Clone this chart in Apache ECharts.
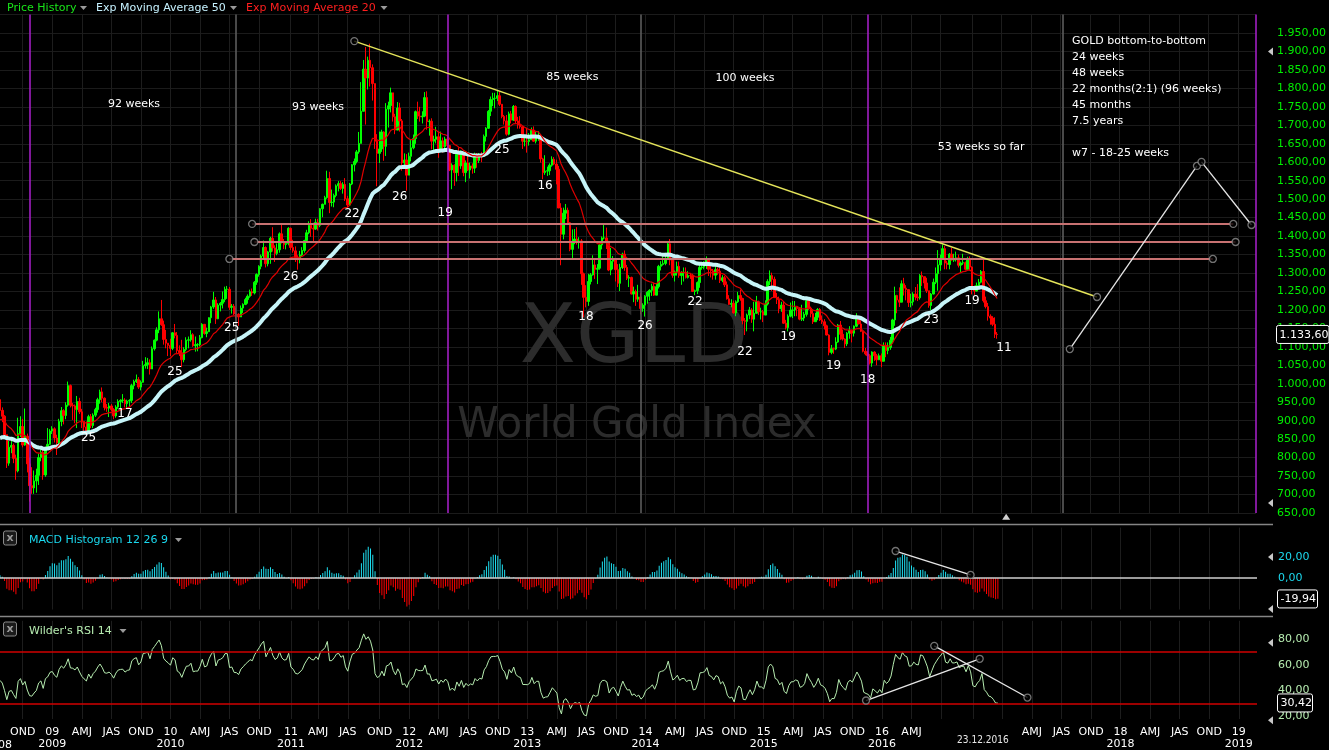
<!DOCTYPE html>
<html><head><meta charset="utf-8">
<script src="https://cdn.jsdelivr.net/npm/echarts@6/dist/echarts.min.js"></script>
<style>html,body{margin:0;padding:0;background:#000;overflow:hidden}#c{width:1329px;height:750px}</style>
</head><body><div id="c"></div>
<script>
// ---------- DATA (weekly, Fridays, [close, high, low]) ----------
const startDate = '2008-07-25';
const totalWeeks = 554;          // categories incl. empty future weeks up to early 2019
const firstOpen = 957;
const w2008 = [[928,966,912],[912,936,896],[862,915,853],[785,862,772],[828,845,778],[833,846,812],[798,838,785],[764,808,740],[865,908,760],[884,912,856],[834,905,828],[858,933,832],[783,865,760],[724,800,681],[718,774,702],[737,765,702],[752,770,705],[800,810,726],[814,830,790],[753,822,740],[822,830,748],[836,880,826],[872,877,835]];
const w2009 = [[878,885,864],[853,882,841],[840,862,807],[898,905,835],[927,937,885],[914,931,890],[942,950,904],[995,1006,938],[942,998,936],[940,948,902],[930,944,893],[952,967,880],[924,962,918],[898,932,880],[883,894,865],[870,898,864],[911,916,876],[887,918,880],[915,920,880],[930,935,910],[957,962,922],[978,984,946],[961,990,950],[936,963,928],[934,945,924],[940,948,910],[930,945,925],[913,934,904],[937,942,908],[952,958,932],[955,958,930],[956,972,948],[946,961,936],[953,957,932],[955,958,938],[995,1000,948],[1006,1011,985],[1011,1025,1002],[991,1018,986],[1004,1009,982],[1049,1062,1003],[1052,1072,1041],[1057,1070,1040],[1040,1066,1025],[1095,1101,1040],[1118,1120,1090],[1146,1153,1115],[1176,1196,1137],[1160,1227,1157],[1120,1171,1106],[1110,1146,1096],[1104,1108,1075]];
const w2010 = [[1096,1122,1075],[1138,1140,1091],[1131,1162,1123],[1090,1140,1083],[1084,1104,1075],[1065,1119,1045],[1093,1099,1058],[1118,1126,1088],[1119,1128,1096],[1133,1145,1114],[1103,1137,1100],[1106,1128,1087],[1106,1110,1088],[1125,1132,1101],[1161,1164,1123],[1136,1162,1133],[1141,1152,1126],[1179,1180,1140],[1208,1211,1164],[1227,1249,1203],[1176,1235,1162],[1213,1218,1175],[1218,1221,1196],[1228,1250,1204],[1256,1263,1221],[1256,1265,1230],[1207,1262,1200],[1210,1216,1190],[1189,1216,1186],[1188,1206,1177],[1181,1191,1157],[1205,1212,1182],[1215,1218,1192],[1228,1233,1213],[1237,1242,1217],[1249,1255,1233],[1246,1258,1238],[1275,1278,1242],[1296,1299,1268],[1318,1321,1290],[1346,1350,1310],[1369,1388,1340],[1325,1372,1315],[1357,1360,1318],[1394,1398,1325],[1368,1424,1358],[1353,1375,1330],[1363,1380,1348],[1406,1410,1355],[1385,1431,1380],[1377,1392,1365],[1380,1386,1364],[1421,1424,1375]];
const w2011 = [[1369,1423,1362],[1360,1390,1355],[1342,1372,1330],[1340,1348,1309],[1349,1360,1326],[1361,1370,1345],[1388,1390,1355],[1409,1417,1383],[1429,1440,1405],[1421,1446,1398],[1419,1436,1382],[1437,1447,1417],[1429,1447,1415],[1474,1476,1424],[1486,1488,1451],[1504,1509,1488],[1556,1577,1501],[1491,1574,1462],[1492,1526,1480],[1510,1515,1478],[1536,1540,1505],[1542,1549,1521],[1529,1549,1525],[1540,1546,1515],[1501,1557,1495],[1484,1509,1478],[1541,1544,1483],[1593,1595,1538],[1602,1610,1575],[1628,1633,1597],[1651,1682,1623],[1738,1817,1658],[1852,1877,1745],[1828,1912,1702],[1876,1886,1797],[1856,1921,1805],[1813,1865,1767],[1657,1810,1636],[1624,1676,1535],[1636,1683,1598],[1682,1688,1628],[1643,1684,1604],[1744,1760,1617],[1753,1764,1694],[1788,1802,1735],[1723,1788,1710],[1687,1731,1676],[1747,1763,1692],[1712,1761,1683],[1598,1717,1577],[1606,1624,1590],[1565,1622,1523]];
const w2012 = [[1616,1626,1565],[1639,1660,1602],[1664,1675,1635],[1737,1740,1650],[1725,1764,1717],[1723,1750,1710],[1725,1738,1705],[1775,1790,1722],[1710,1792,1688],[1711,1716,1672],[1657,1719,1635],[1662,1672,1627],[1669,1696,1651],[1632,1683,1612],[1658,1683,1628],[1642,1667,1626],[1663,1669,1636],[1645,1672,1632],[1579,1645,1576],[1592,1597,1527],[1572,1594,1536],[1622,1626,1548],[1590,1640,1563],[1626,1632,1582],[1572,1628,1562],[1598,1605,1546],[1579,1627,1576],[1590,1599,1556],[1584,1597,1569],[1620,1626,1571],[1605,1625,1585],[1620,1625,1598],[1616,1628,1600],[1670,1675,1617],[1692,1695,1656],[1738,1741,1690],[1770,1778,1725],[1773,1788,1752],[1773,1788,1746],[1780,1796,1766],[1757,1790,1752],[1724,1757,1719],[1712,1728,1702],[1676,1728,1672],[1731,1737,1673],[1714,1739,1705],[1751,1755,1712],[1712,1754,1705],[1701,1723,1691],[1696,1725,1691],[1657,1697,1636],[1657,1668,1643]];
const w2013 = [[1656,1693,1626],[1661,1679,1645],[1687,1694,1661],[1657,1697,1655],[1667,1682,1651],[1667,1684,1658],[1609,1675,1599],[1572,1612,1554],[1576,1619,1566],[1577,1588,1563],[1592,1597,1565],[1608,1616,1588],[1595,1614,1592],[1581,1607,1540],[1476,1590,1476],[1405,1489,1321],[1462,1477,1391],[1470,1487,1446],[1436,1477,1430],[1364,1438,1359],[1386,1418,1338],[1392,1419,1378],[1383,1424,1377],[1387,1397,1366],[1298,1392,1268],[1234,1301,1180],[1223,1267,1207],[1277,1298,1211],[1295,1300,1269],[1322,1348,1293],[1310,1336,1284],[1313,1324,1270],[1376,1378,1309],[1395,1399,1364],[1395,1434,1391],[1386,1423,1365],[1308,1385,1305],[1332,1368,1294],[1338,1346,1310],[1309,1338,1277],[1272,1324,1262],[1315,1325,1251],[1351,1355,1311],[1315,1361,1306],[1286,1322,1281],[1288,1294,1262],[1243,1290,1242],[1250,1263,1221],[1229,1255,1211],[1235,1268,1222],[1204,1245,1188],[1213,1218,1195]];
const w2014 = [[1237,1240,1182],[1248,1251,1217],[1253,1256,1225],[1264,1271,1238],[1240,1274,1238],[1263,1270,1240],[1318,1322,1258],[1323,1332,1307],[1326,1345,1320],[1339,1355,1321],[1379,1384,1335],[1335,1392,1321],[1294,1338,1287],[1303,1307,1277],[1318,1331,1293],[1293,1331,1287],[1301,1305,1268],[1302,1315,1277],[1288,1315,1285],[1293,1305,1285],[1292,1300,1284],[1250,1298,1249],[1252,1255,1240],[1274,1277,1243],[1315,1325,1260],[1316,1326,1309],[1320,1332,1310],[1337,1345,1311],[1310,1338,1292],[1306,1322,1288],[1294,1311,1282],[1309,1322,1282],[1305,1315,1295],[1280,1314,1273],[1287,1294,1275],[1268,1292,1262],[1230,1277,1228],[1215,1240,1214],[1218,1229,1207],[1192,1225,1190],[1222,1226,1183],[1239,1249,1219],[1231,1255,1225],[1171,1233,1161],[1169,1178,1132],[1186,1190,1142],[1200,1208,1175],[1175,1205,1165],[1191,1222,1142],[1222,1238,1190],[1195,1225,1186],[1195,1206,1174]];
const w2015 = [[1186,1200,1167],[1216,1226,1186],[1277,1283,1212],[1293,1307,1267],[1283,1301,1251],[1234,1290,1232],[1228,1246,1216],[1203,1236,1191],[1213,1222,1195],[1164,1223,1162],[1152,1173,1147],[1183,1188,1142],[1199,1220,1180],[1200,1224,1178],[1207,1224,1183],[1204,1209,1183],[1175,1205,1172],[1178,1214,1170],[1188,1195,1170],[1225,1232,1182],[1205,1228,1200],[1190,1209,1180],[1168,1199,1162],[1180,1192,1170],[1201,1205,1172],[1173,1205,1170],[1168,1185,1162],[1157,1175,1147],[1132,1160,1131],[1085,1134,1077],[1095,1105,1080],[1094,1098,1081],[1113,1126,1091],[1159,1162,1111],[1134,1170,1119],[1121,1147,1117],[1108,1123,1097],[1137,1140,1102],[1145,1156,1122],[1137,1142,1112],[1156,1158,1128],[1177,1191,1153],[1162,1180,1161],[1142,1172,1140],[1088,1142,1085],[1081,1097,1077],[1076,1088,1064],[1056,1080,1052],[1086,1088,1046],[1076,1088,1062],[1065,1081,1050],[1076,1082,1064]];
const w2016 = [[1061,1082,1045],[1104,1112,1062],[1090,1112,1072],[1098,1112,1080],[1118,1127,1092],[1173,1176,1111],[1239,1263,1157],[1227,1241,1191],[1221,1261,1208],[1271,1280,1229],[1259,1287,1239],[1255,1267,1226],[1220,1251,1208],[1222,1244,1207],[1243,1248,1212],[1235,1262,1226],[1233,1270,1224],[1293,1297,1228],[1290,1304,1265],[1273,1289,1258],[1252,1287,1246],[1212,1252,1206],[1243,1246,1200],[1275,1285,1242],[1298,1315,1270],[1322,1362,1252],[1340,1350,1306],[1366,1377,1338],[1327,1373,1310],[1323,1333,1310],[1351,1354,1310],[1335,1368,1334],[1336,1352,1330],[1341,1358,1331],[1321,1350,1315],[1327,1331,1302],[1328,1352,1322],[1310,1331,1307],[1337,1344,1310],[1316,1345,1307],[1257,1318,1242],[1251,1266,1241],[1266,1274,1250],[1275,1284,1261],[1304,1308,1272],[1225,1338,1220],[1209,1236,1204],[1183,1219,1171],[1178,1188,1160],[1161,1183,1156],[1134,1180,1124],[1133.6,1140,1122]];

// indicator seeds (values before the first visible week)
const seedEma50 = 850, seedEma20 = 900, seedEma12 = 918, seedEma26 = 912, seedSignal = 3;
const seedAvgGain = 14, seedAvgLoss = 13;
const lastMacdLabel = -19.94, lastRsiLabel = 30.42;

// annotation texts: [text, week index, price]
const weekNotes = [['92 weeks',59,1758],['93 weeks',140,1750],['85 weeks',252,1831],['100 weeks',328,1828],['53 weeks so far',432,1641]];
const cycleNotes = [['25',39,853],['17',55,918],['25',77,1032],['25',102,1151],['26',128,1289],['22',155,1460],['26',176,1506],['19',196,1462],['25',221,1633],['16',240,1536],['18',258,1181],['26',284,1156],['22',306,1221],['22',328,1086],['19',347,1127],['19',367,1048],['18',382,1010],['23',410,1173],['19',428,1224],['11',442,1097]];
const infoLines = ['GOLD bottom-to-bottom','24 weeks','48 weeks','22 months(2:1) (96 weeks)','45 months','7.5 years','','w7 - 18-25 weeks'];
const infoAnchor = [472, 1950];

// drawn lines (week index, value)
const purpleLines = [13, 197, 382, 553];
const grayLines = [104, 282, 468];
const trendLine = [[156,1928],[483,1235]];
const levelLines = [[[111,1433],[543,1433]],[[112,1384],[544,1384]],[[101,1338],[534,1338]]];
const projLines = [[[471,1094],[527,1590]],[[529,1601],[551,1430]]];
const macdLine = [[394,25.7],[427,2.9]];
const rsiLines = [[[381,32.3],[431,64.6]],[[411,74.6],[452,34.6]]];

// ---------- BUILD ----------
const FONT = '"DejaVu Sans"';
const base = Date.UTC(2008,6,25);
const cats = Array.from({length: totalWeeks}, (_, i) => new Date(base + i*7*864e5).toISOString().slice(0,10));
const weeks = w2008.concat(w2009, w2010, w2011, w2012, w2013, w2014, w2015, w2016);
const closes = weeks.map(w => w[0]);
const highs = weeks.map(w => w[1]);
const lows = weeks.map(w => w[2]);
const opens = closes.map((c, i) => i === 0 ? firstOpen : closes[i-1]);
const candles = closes.map((c, i) => [opens[i], c, Math.min(lows[i], opens[i], c), Math.max(highs[i], opens[i], c)]);

function ema(src, n, seed){ const k = 2/(n+1); let e = seed; return src.map(v => (e = e + k*(v - e))); }
const ema50 = ema(closes, 50, seedEma50);
const ema20 = ema(closes, 20, seedEma20);
const e12 = ema(closes, 12, seedEma12), e26 = ema(closes, 26, seedEma26);
const macd = e12.map((v, i) => v - e26[i]);
const signal = ema(macd, 9, seedSignal);
const hist = macd.map((v, i) => +(v - signal[i]).toFixed(3));
let ag = seedAvgGain, al = seedAvgLoss;
const rsi = closes.map((c, i) => { const ch = c - opens[i]; ag = (ag*13 + Math.max(ch,0))/14; al = (al*13 + Math.max(-ch,0))/14; return +(100 - 100/(1 + ag/al)).toFixed(3); });

function euro(v){ const neg = v < 0; const s = Math.abs(v).toFixed(2).split('.'); return (neg?'-':'') + s[0].replace(/\B(?=(\d{3})+(?!\d))/g,'.') + ',' + s[1]; }
const isQStart = d => { const m = +d.slice(5,7), day = +d.slice(8,10); return m % 3 === 1 && day <= 7; };
const hideLabel = d => d >= '2016-06-25' && d <= '2017-01-10';

const gridW = 1257;
const xAxes = [0,1,2].map(g => ({
  type: 'category', gridIndex: g, data: cats, boundaryGap: false,
  axisLine: {show: false}, axisTick: {show: false},
  axisLabel: g === 2 ? {
    show: true, color: '#ffffff', fontSize: 11, fontFamily: FONT, margin: 7, lineHeight: 12,
    interval: (i, v) => isQStart(v) && !hideLabel(v),
    formatter: v => { const m = +v.slice(5,7), y = v.slice(0,4); return m === 1 ? y.slice(2) + '\n' + y : (m === 4 ? 'AMJ' : m === 7 ? 'JAS' : 'OND'); }
  } : {show: false},
  splitLine: {show: true, interval: (i, v) => isQStart(v), lineStyle: {color: '#1d1d1d', width: 1}}
}));

const vLine = (x, color) => ({xAxis: x, lineStyle: {color: color, width: 1.6, type: 'solid'}});
const seg = (a, b, color, width) => [{coord: a, lineStyle: {color: color, width: width, type: 'solid'}}, {coord: b}];
const priceMarks = [].concat(
  purpleLines.map(x => vLine(x, '#a11fc2')),
  grayLines.map(x => vLine(x, '#5c5c5c')),
  levelLines.map(l => seg(l[0], l[1], '#c87272', 2.2)),
  [seg(trendLine[0], trendLine[1], '#e4e45a', 1.5)],
  projLines.map(l => seg(l[0], l[1], '#e6e6e6', 1.3))
);
const circleStyle = {color: '#000', borderColor: '#8e8e8e', borderWidth: 1.3};
const priceDots = [trendLine[0], trendLine[1]].concat(...levelLines, ...projLines);
const rsiDots = [].concat(...rsiLines);

const option = {
  backgroundColor: '#000',
  animation: false,
  textStyle: {fontFamily: FONT},
  grid: [
    {left: 0, width: gridW, top: 14.54, height: 498.46},
    {left: 0, width: gridW, top: 527.6, height: 81.9},
    {left: 0, width: gridW, top: 620.8, height: 98.8}
  ],
  xAxis: xAxes,
  yAxis: [
    {type: 'value', gridIndex: 0, position: 'right', min: 650, max: 2000, interval: 50,
     axisLine: {show: false}, axisTick: {show: false},
     axisLabel: {margin: 21, color: '#00ee00', fontSize: 11, fontFamily: FONT, formatter: v => v > 1950 ? '' : euro(v)},
     splitLine: {show: true, lineStyle: {color: '#1b1b1b'}}},
    {type: 'value', gridIndex: 1, position: 'right', min: -30, max: 48, interval: 10,
     axisLine: {show: false}, axisTick: {show: false},
     axisLabel: {margin: 21, color: '#1cd8ee', fontSize: 11, fontFamily: FONT, formatter: v => (v === 20 || v === 0) ? euro(v) : ''},
     splitLine: {show: false}},
    {type: 'value', gridIndex: 2, position: 'right', min: 18, max: 94, interval: 2,
     axisLine: {show: false}, axisTick: {show: false},
     axisLabel: {margin: 21, color: '#b6ecb0', fontSize: 11, fontFamily: FONT, formatter: v => [20,40,60,80].indexOf(v) >= 0 ? euro(v) : ''},
     splitLine: {show: false}}
  ],
  series: [
    {type: 'candlestick', name: 'Price History', xAxisIndex: 0, yAxisIndex: 0, data: candles, barWidth: 2, silent: true,
     itemStyle: {color: '#00ff00', color0: '#ff0000', borderColor: '#00ff00', borderColor0: '#ff0000', borderWidth: 1},
     markLine: {silent: true, symbol: ['none','none'], label: {show: false}, animation: false, data: priceMarks}},
    {type: 'line', name: 'Exp Moving Average 50', xAxisIndex: 0, yAxisIndex: 0, data: ema50, symbol: 'none', silent: true, z: 4,
     lineStyle: {color: '#c6f4f8', width: 4}},
    {type: 'line', name: 'Exp Moving Average 20', xAxisIndex: 0, yAxisIndex: 0, data: ema20, symbol: 'none', silent: true, z: 4,
     lineStyle: {color: '#e00000', width: 1.2}},
    {type: 'scatter', xAxisIndex: 0, yAxisIndex: 0, data: priceDots, symbolSize: 7, itemStyle: circleStyle, silent: true, z: 6},
    {type: 'bar', name: 'MACD Histogram 12 26 9', xAxisIndex: 1, yAxisIndex: 1, data: hist, barWidth: 1, silent: true,
     itemStyle: {color: p => p.value >= 0 ? '#1ee0f2' : '#ff0000'},
     markLine: {silent: true, symbol: ['none','none'], label: {show: false}, animation: false,
       data: [{yAxis: 0, lineStyle: {color: '#cfcfcf', width: 1.5, type: 'solid'}}, seg(macdLine[0], macdLine[1], '#e6e6e6', 1.3)]}},
    {type: 'scatter', xAxisIndex: 1, yAxisIndex: 1, data: macdLine, symbolSize: 7, itemStyle: circleStyle, silent: true, z: 6},
    {type: 'line', name: "Wilder's RSI 14", xAxisIndex: 2, yAxisIndex: 2, data: rsi, symbol: 'none', silent: true,
     lineStyle: {color: '#b6ecb0', width: 1},
     markLine: {silent: true, symbol: ['none','none'], label: {show: false}, animation: false,
       data: [{yAxis: 70, lineStyle: {color: '#d00000', width: 1.5, type: 'solid'}}, {yAxis: 30, lineStyle: {color: '#d00000', width: 1.5, type: 'solid'}}]
         .concat(rsiLines.map(l => seg(l[0], l[1], '#e6e6e6', 1.3)))}},
    {type: 'scatter', xAxisIndex: 2, yAxisIndex: 2, data: rsiDots, symbolSize: 7, itemStyle: circleStyle, silent: true, z: 6}
  ]
};

const chart = echarts.init(document.getElementById('c'));
chart.setOption(option);

// ---------- annotations placed through the chart's scales ----------
const P = (g, x, y) => chart.convertToPixel({gridIndex: g}, [x, y]);
const Y = (g, v) => chart.convertToPixel({yAxisIndex: g}, v);
const txt = (x, y, text, fill, font, align, extra) => Object.assign({type: 'text', x: x, y: y, z: 50, silent: true,
  style: {text: text, fill: fill, font: font, align: align || 'center', verticalAlign: 'middle'}}, extra || {});
const tri = (x, y, dir, fill) => ({type: 'polygon', z: 50, silent: true,
  shape: {points: dir === 'left' ? [[x, y], [x+5, y-4], [x+5, y+4]] : dir === 'up' ? [[x-4, y+3], [x+4, y+3], [x, y-3]] : [[x-3.5, y-2], [x+3.5, y-2], [x, y+2]]},
  style: {fill: fill}});
const box = (x, y, w, text) => [
  {type: 'rect', z: 60, silent: true, shape: {x: x, y: y - 9, width: w, height: 18, r: 2}, style: {fill: '#000', stroke: '#ffffff', lineWidth: 1}},
  txt(x + 3, y + 0.5, text, '#ffffff', '11px ' + FONT, 'left', {z: 61})
];
const xbox = (y) => [
  {type: 'rect', z: 50, silent: true, shape: {x: 3.5, y: y - 7.5, width: 13, height: 14, r: 2}, style: {fill: '#1a1a1a', stroke: '#8a8a8a', lineWidth: 1}},
  txt(10, y - 0.5, 'x', '#9a9a9a', 'bold 11px ' + FONT, 'center', {z: 51})
];

const g = [];
// watermark
g.push(Object.assign(txt(634, 341, 'XGLD', '#2c2c2c', '82px ' + FONT), {z: 1}));
g.push(Object.assign(txt(637, 426, 'World Gold Index', '#2c2c2c', '42px ' + FONT), {z: 1}));
// legend
g.push(txt(7, 8, 'Price History', '#19e619', '11px ' + FONT, 'left'));
g.push(tri(83.5, 8, 'down', '#9a9a9a'));
g.push(txt(96, 8, 'Exp Moving Average 50', '#c6f2ff', '11px ' + FONT, 'left'));
g.push(tri(233.5, 8, 'down', '#9a9a9a'));
g.push(txt(246, 8, 'Exp Moving Average 20', '#ff1f1f', '11px ' + FONT, 'left'));
g.push(tri(384, 8, 'down', '#9a9a9a'));
// panel separators and titles
g.push({type: 'line', z: 40, silent: true, shape: {x1: 0, y1: 524.5, x2: 1273, y2: 524.5}, style: {stroke: '#858585', lineWidth: 1.5}});
g.push({type: 'line', z: 40, silent: true, shape: {x1: 0, y1: 616.5, x2: 1273, y2: 616.5}, style: {stroke: '#858585', lineWidth: 1.5}});
g.push(...xbox(538.5));
g.push(txt(29, 540, 'MACD Histogram 12 26 9', '#1ad8ee', '11px ' + FONT, 'left'));
g.push(tri(178.5, 540, 'down', '#9a9a9a'));
g.push(...xbox(629.5));
g.push(txt(29, 631, "Wilder's RSI 14", '#b6ecb0', '11px ' + FONT, 'left'));
g.push(tri(123, 631, 'down', '#9a9a9a'));
// text notes
weekNotes.forEach(n => { const p = P(0, n[1], n[2]); g.push(txt(p[0], p[1], n[0], '#ffffff', '11px ' + FONT)); });
cycleNotes.forEach(n => { const p = P(0, n[1], n[2]); g.push(txt(p[0], p[1], n[0], '#ffffff', '12px ' + FONT)); });
{ const p = P(0, infoAnchor[0], infoAnchor[1]);
  g.push({type: 'text', x: p[0], y: p[1], z: 50, silent: true, style: {text: infoLines.join('\n'), fill: '#ffffff', font: '11px ' + FONT, align: 'left', verticalAlign: 'top', lineHeight: 16}}); }
// value boxes on the right axes
g.push(...box(1276.5, Y(0, closes[closes.length - 1]), 52.5, euro(closes[closes.length - 1])));
g.push(...box(1277.5, Y(1, lastMacdLabel), 40, euro(lastMacdLabel)));
g.push(...box(1277.5, Y(2, lastRsiLabel), 35, euro(lastRsiLabel)));
// small axis flags
[[0, 1900], [0, 677]].forEach(a => g.push(tri(1268, Y(a[0], a[1]), 'left', '#c8c8c8')));
[[1, 20], [1, -29.5]].forEach(a => g.push(tri(1268, Y(a[0], a[1]), 'left', '#c8c8c8')));
[[2, 77], [2, 17]].forEach(a => g.push(tri(1268, Y(a[0], a[1]), 'left', '#c8c8c8')));
{ const p = P(0, 443, 640); g.push(tri(p[0], p[1], 'up', '#d0d0d0')); }
// date stamp and cut-off year at left
{ const p = P(2, closes.length - 1, 18); g.push(txt(p[0] - 15, 740, '23.12.2016', '#e8e8e8', '10px "DejaVu Sans Condensed", ' + FONT)); }
g.push(txt(12, 745, '2008', '#ffffff', '11px ' + FONT, 'right'));

chart.setOption({graphic: g});
</script>
</body></html>
